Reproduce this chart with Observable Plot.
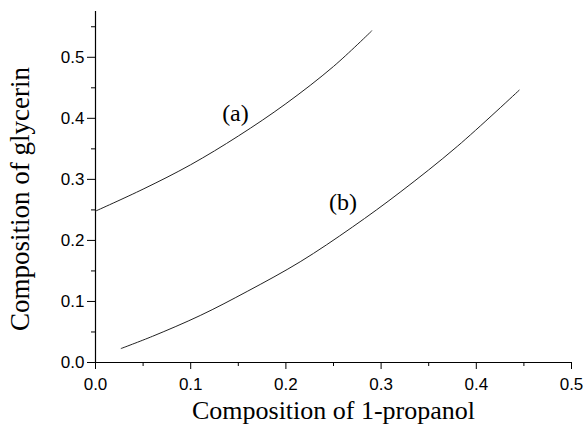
<!DOCTYPE html>
<html><head><meta charset="utf-8">
<script src="https://cdn.jsdelivr.net/npm/d3@7"></script>
<script src="https://cdn.jsdelivr.net/npm/@observablehq/plot@0.6"></script>
<style>body{margin:0;background:#fff}</style>
</head><body><div id="chart"></div>
<script>
// Curve (a)
const aX = [0, 0.05, 0.1, 0.15, 0.2, 0.25, 0.29];
const aY = [0.248, 0.284, 0.324, 0.371, 0.424, 0.485, 0.543];
// Curve (b)
const bX = [0.027, 0.06, 0.11, 0.16, 0.215, 0.27, 0.32, 0.38, 0.445];
const bY = [0.023, 0.043, 0.077, 0.117, 0.165, 0.222, 0.279, 0.354, 0.446];
// Curve labels
const labelText = ["(a)", "(b)"];
const labelX = [0.147, 0.26];
const labelY = [0.408, 0.262];
// Ticks
const xTicks = [0, 0.1, 0.2, 0.3, 0.4, 0.5];
const xMinor = [0.05, 0.15, 0.25, 0.35, 0.45];
const yTicks = [0, 0.1, 0.2, 0.3, 0.4, 0.5];
const yMinor = [0.05, 0.15, 0.25, 0.35, 0.45, 0.55];
const xTitle = "Composition of 1-propanol";
const yTitle = "Composition of glycerin";

const aData = aX.map((x, i) => ({x, y: aY[i]}));
const bData = bX.map((x, i) => ({x, y: bY[i]}));
const labels = labelText.map((t, i) => ({t, x: labelX[i], y: labelY[i]}));

const serif = "'Liberation Serif', 'Times New Roman', serif";
const fmt = d3.format(".1f");
const chart = Plot.plot({
  width: 584, height: 434,
  marginLeft: 95, marginRight: 13, marginTop: 11, marginBottom: 72,
  x: {domain: [0, 0.5]},
  y: {domain: [0, 0.575]},
  style: {fontFamily: "'Liberation Sans', Arial, sans-serif", fontSize: "17px", color: "#000", background: "#fff"},
  marks: [
    Plot.axisX({ticks: xTicks, tickSize: 7, tickFormat: fmt, tickPadding: 8, fontSize: 17, stroke: "#000", strokeOpacity: 1, label: null}),
    Plot.axisX({ticks: xMinor, tickSize: 4, tickFormat: () => "", stroke: "#000", strokeOpacity: 1, label: null}),
    Plot.axisY({ticks: yTicks, tickSize: 8, tickFormat: fmt, tickPadding: 3, fontSize: 17, stroke: "#000", strokeOpacity: 1, label: null}),
    Plot.axisY({ticks: yMinor, tickSize: 4, tickFormat: () => "", stroke: "#000", strokeOpacity: 1, label: null}),
    Plot.ruleX([0], {stroke: "#000", strokeWidth: 1.2}),
    Plot.ruleY([0], {stroke: "#000", strokeWidth: 1.2}),
    Plot.line(aData, {x: "x", y: "y", curve: "catmull-rom", stroke: "#222", strokeWidth: 1}),
    Plot.line(bData, {x: "x", y: "y", curve: "catmull-rom", stroke: "#222", strokeWidth: 1}),
    Plot.text(labels, {x: "x", y: "y", text: "t", fontFamily: serif, fontSize: 24, fill: "#000"}),
    Plot.text([xTitle], {frameAnchor: "bottom", textAnchor: "middle", dy: 56, text: d => d, fontFamily: serif, fontSize: 26, fill: "#000"}),
    Plot.text([yTitle], {frameAnchor: "left", textAnchor: "middle", dx: -75, dy: 12, rotate: -90, text: d => d, fontFamily: serif, fontSize: 27, fill: "#000"})
  ]
});
document.getElementById("chart").appendChild(chart);
</script>
</body></html>
